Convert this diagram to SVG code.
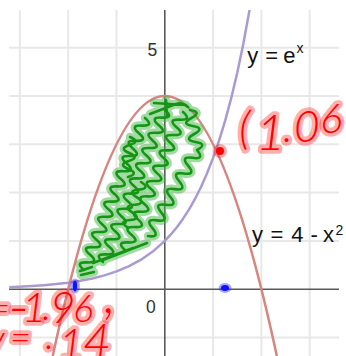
<svg xmlns="http://www.w3.org/2000/svg" width="346" height="356" viewBox="0 0 346 356">
<style>
.grid line{stroke:#e8e8e8;stroke-width:2}
.axis{stroke:#5a5a5a;stroke-width:1.6}
.lbl{font-family:"Liberation Sans",Arial,sans-serif;font-size:22px;fill:#111}
.num{font-family:"Liberation Sans",Arial,sans-serif;font-size:17.5px;fill:#333}
.hw{font-family:Lato,"Liberation Sans",sans-serif;font-weight:300;font-style:italic;fill:#ff0000;stroke:rgba(255,40,40,0.38);stroke-width:7.5;stroke-linejoin:round;stroke-linecap:round;paint-order:stroke}
.gh{fill:none;stroke:#45b845;stroke-width:8.5;stroke-linecap:round;stroke-linejoin:round}
.gc{fill:none;stroke:#149614;stroke-width:2.6;stroke-linecap:round;stroke-linejoin:round}
</style>
<defs>
<clipPath id="plot"><rect x="9" y="10" width="330" height="346"/></clipPath>
<g id="scribble">
<path d="M145 118 q9.6 8.3 -3.05 7.6 t-3.05 7.6 t-3.05 7.6 t-3.05 7.6 t-3.05 7.6 t-3.05 7.6 t-3.05 7.6 t-3.05 7.6 t-3.05 7.6 t-3.05 7.6 t-3.05 7.6 t-3.05 7.6 t-3.05 7.6 t-3.05 7.6 t-3.05 7.6 t-3.05 7.6 t-3.05 7.6 t-3.05 7.6 t-3.05 7.6 t-3.05 7.6"/>
<path d="M165 110 q9.6 8.3 -3.1 7.6 t-3.1 7.6 t-3.1 7.6 t-3.1 7.6 t-3.1 7.6 t-3.1 7.6 t-3.1 7.6 t-3.1 7.6 t-3.1 7.6 t-3.1 7.6 t-3.1 7.6 t-3.1 7.6 t-3.1 7.6 t-3.1 7.6 t-3.1 7.6 t-3.1 7.6 t-3.1 7.6 t-3.1 7.6 t-3.1 7.6 t-3.1 7.6"/>
<path d="M183 112 q9.5 8.3 -3.22 7.67 t-3.22 7.67 t-3.22 7.67 t-3.22 7.67 t-3.22 7.67 t-3.22 7.67 t-3.22 7.67 t-3.22 7.67 t-3.22 7.67 t-3.22 7.67 t-3.22 7.67 t-3.22 7.67 t-3.22 7.67 t-3.22 7.67 t-3.22 7.67 t-3.22 7.67 t-3.22 7.67 t-3.22 7.67"/>
<path d="M190 110 q12.5 1.9 1.4 8 t1.4 8 t1.4 8 t1.4 8 t1.4 8 q8.2 9.8 -4.45 7.82 t-4.45 7.82 t-4.45 7.82 t-4.45 7.82 t-4.45 7.82 t-4.45 7.82 t-4.45 7.82 t-4.45 7.82 t-4.45 7.82 t-4.45 7.82 t-4.45 7.82"/>
<path d="M130 137 q11 4.5 -0.4 8 t-0.4 8 t-0.4 8 t-0.4 8 t-0.4 8"/>
<path d="M141 182 q10 6.5 -2.2 7.6 t-2.2 7.6 t-2.2 7.6 t-2.2 7.6 t-2.2 7.6 t-2.2 7.6"/>
<path d="M154 103 L186 105 M166 100 L167 116 M150 114 L176 104 q6 -2 12 3"/>
<path d="M103 260 L147 243 M93 263 L133 248 M80 271 L92 267 M81 275 L94 272"/>
</g>
</defs>

<g id="grid" class="grid" clip-path="url(#plot)">
<line x1="19.9" y1="10" x2="19.9" y2="356"/>
<line x1="68.2" y1="10" x2="68.2" y2="356"/>
<line x1="116.5" y1="10" x2="116.5" y2="356"/>
<line x1="213.1" y1="10" x2="213.1" y2="356"/>
<line x1="261.4" y1="10" x2="261.4" y2="356"/>
<line x1="309.7" y1="10" x2="309.7" y2="356"/>
<line x1="9" y1="47.7" x2="339" y2="47.7"/>
<line x1="9" y1="96" x2="339" y2="96"/>
<line x1="9" y1="144.3" x2="339" y2="144.3"/>
<line x1="9" y1="192.6" x2="339" y2="192.6"/>
<line x1="9" y1="240.9" x2="339" y2="240.9"/>
<line x1="9" y1="337.5" x2="339" y2="337.5"/>
</g>

<g id="axes">
<line class="axis" x1="164.8" y1="10" x2="164.8" y2="356"/>
<line class="axis" x1="9" y1="289.2" x2="339" y2="289.2"/>
<text class="num" x="147.6" y="56">5</text>
<text class="num" x="146" y="313">0</text>
</g>

<g id="curves" clip-path="url(#plot)" fill="none" stroke-width="2.5" stroke-linejoin="round">
<path id="curve-exp" stroke="#a99bd1" d="M9.27 287.27 L31.97 286.11 L44.05 285.24 L56.13 284.11 L68.2 282.66 L80.28 280.81 L92.35 278.42 L104.43 275.36 L116.5 271.43 L128.58 266.38 L140.65 259.91 L152.73 251.58 L164.8 240.9 L170.84 234.47 L176.88 227.18 L182.91 218.92 L188.95 209.57 L194.99 198.97 L201.03 186.95 L207.06 173.33 L213.1 157.9 L219.14 140.43 L225.18 120.62 L231.21 98.17 L237.25 72.73 L243.29 43.91 L249.61 9.61"/>
<path id="curve-parabola" stroke="#d6857f" d="M52.75 356 Q164.8 -163.9 276.85 356"/>
</g>

<g id="shading">
<g opacity="0.5"><use href="#scribble" class="gh"/></g>
<use href="#scribble" class="gc"/>
</g>

<g id="labels">
<text class="lbl"><tspan x="247.3" y="63">y </tspan><tspan x="265.3">= </tspan><tspan x="283.3">e</tspan><tspan x="296.5" y="53" font-size="14">x</tspan></text>
<text class="lbl"><tspan x="252" y="241.5">y </tspan><tspan x="270.5">= </tspan><tspan x="291.3">4 </tspan><tspan x="310.6">- </tspan><tspan x="323">x</tspan><tspan x="335.5" y="235" font-size="14">2</tspan></text>
</g>

<g id="points">
<circle cx="220" cy="151" r="7" fill="rgba(255,40,40,0.4)"/>
<circle cx="220" cy="151" r="4" fill="#ff0000"/>
<ellipse cx="75" cy="286" rx="5" ry="7.5" fill="rgba(40,40,255,0.4)"/>
<ellipse cx="75" cy="286" rx="2.2" ry="5.5" fill="#1010ff"/>
<ellipse cx="225" cy="288" rx="6.5" ry="5" fill="rgba(40,40,255,0.4)"/>
<ellipse cx="225" cy="288" rx="4" ry="3" fill="#1010ff"/>
</g>

<g id="annotations">
<text class="hw"><tspan x="239" y="144" font-size="46">(</tspan><tspan x="256" y="150" font-size="50">1</tspan><tspan x="283" y="142" font-size="42">.</tspan><tspan x="294" y="142" font-size="44">0</tspan><tspan x="320" y="133" font-size="42">6</tspan></text>
<text class="hw"><tspan x="-13" y="322" font-size="40">=</tspan><tspan x="8" y="327" font-size="60">-</tspan><tspan x="22" y="322" font-size="42">1</tspan><tspan x="42" y="320" font-size="40">.</tspan><tspan x="50" y="323" font-size="44">9</tspan><tspan x="73" y="322" font-size="38">6</tspan><tspan x="104" y="313" font-size="56">,</tspan></text>
<text class="hw"><tspan x="-14" y="353" font-size="40">y</tspan><tspan x="10" y="350" font-size="36">= </tspan><tspan x="45" y="349" font-size="40">.</tspan><tspan x="59" y="358" font-size="42">1</tspan><tspan x="83" y="358" font-size="48">4</tspan></text>
</g>
</svg>
